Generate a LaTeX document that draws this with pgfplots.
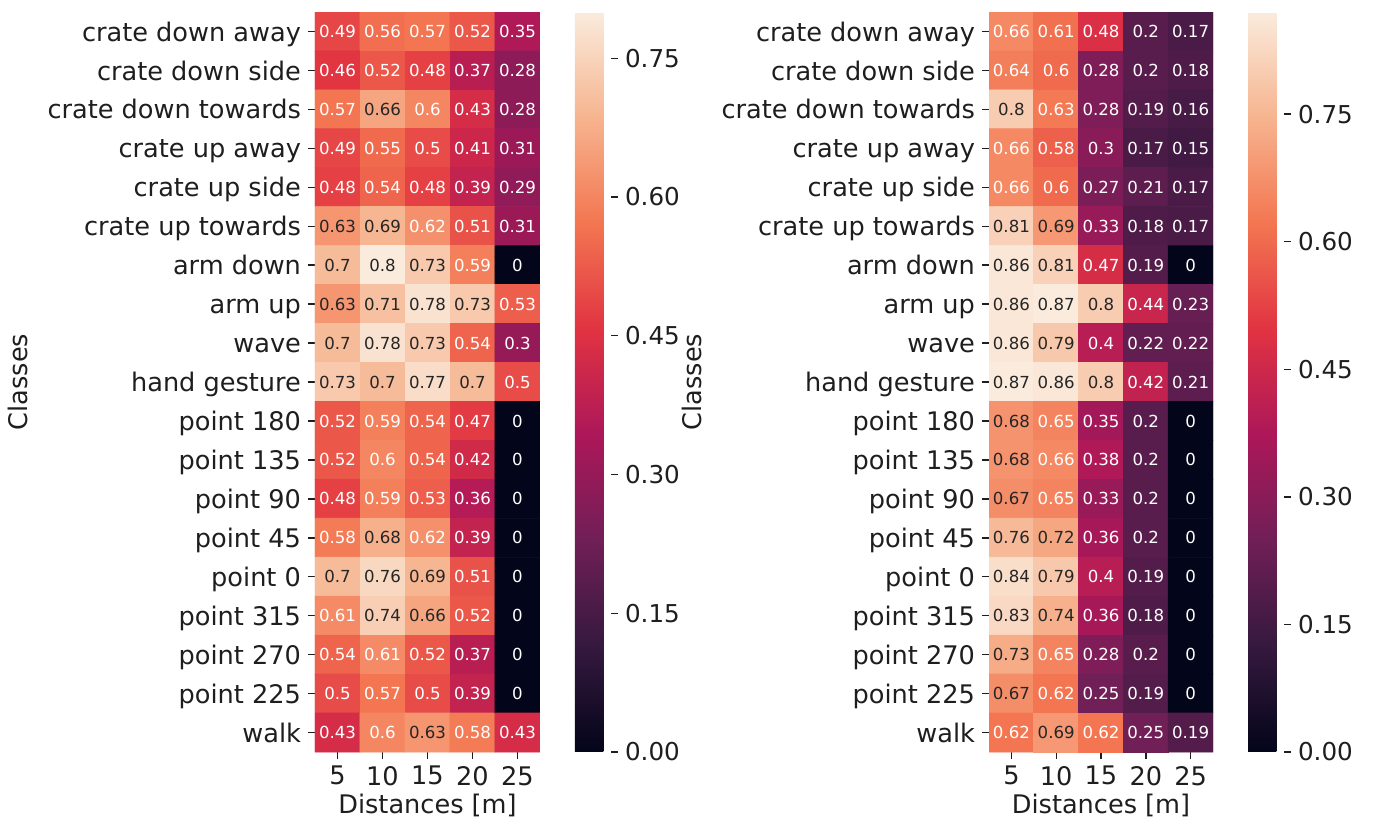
\documentclass[border=0pt]{standalone}
\usepackage{fontspec}
\setmainfont{DejaVu Sans}
\usepackage{pgfplots}
\usepackage{pgfplotstable}
\pgfplotsset{compat=1.18}
\definecolor{txt}{RGB}{30,30,30}
\definecolor{dk}{RGB}{38,38,38}

\pgfplotstableread[row sep=\\]{
c r v\\
0 0 0.49\\ 1 0 0.56\\ 2 0 0.57\\ 3 0 0.52\\ 4 0 0.35\\
0 1 0.46\\ 1 1 0.52\\ 2 1 0.48\\ 3 1 0.37\\ 4 1 0.28\\
0 2 0.57\\ 1 2 0.66\\ 2 2 0.6\\ 3 2 0.43\\ 4 2 0.28\\
0 3 0.49\\ 1 3 0.55\\ 2 3 0.5\\ 3 3 0.41\\ 4 3 0.31\\
0 4 0.48\\ 1 4 0.54\\ 2 4 0.48\\ 3 4 0.39\\ 4 4 0.29\\
0 5 0.63\\ 1 5 0.69\\ 2 5 0.62\\ 3 5 0.51\\ 4 5 0.31\\
0 6 0.7\\ 1 6 0.8\\ 2 6 0.73\\ 3 6 0.59\\ 4 6 0\\
0 7 0.63\\ 1 7 0.71\\ 2 7 0.78\\ 3 7 0.73\\ 4 7 0.53\\
0 8 0.7\\ 1 8 0.78\\ 2 8 0.73\\ 3 8 0.54\\ 4 8 0.3\\
0 9 0.73\\ 1 9 0.7\\ 2 9 0.77\\ 3 9 0.7\\ 4 9 0.5\\
0 10 0.52\\ 1 10 0.59\\ 2 10 0.54\\ 3 10 0.47\\ 4 10 0\\
0 11 0.52\\ 1 11 0.6\\ 2 11 0.54\\ 3 11 0.42\\ 4 11 0\\
0 12 0.48\\ 1 12 0.59\\ 2 12 0.53\\ 3 12 0.36\\ 4 12 0\\
0 13 0.58\\ 1 13 0.68\\ 2 13 0.62\\ 3 13 0.39\\ 4 13 0\\
0 14 0.7\\ 1 14 0.76\\ 2 14 0.69\\ 3 14 0.51\\ 4 14 0\\
0 15 0.61\\ 1 15 0.74\\ 2 15 0.66\\ 3 15 0.52\\ 4 15 0\\
0 16 0.54\\ 1 16 0.61\\ 2 16 0.52\\ 3 16 0.37\\ 4 16 0\\
0 17 0.5\\ 1 17 0.57\\ 2 17 0.5\\ 3 17 0.39\\ 4 17 0\\
0 18 0.43\\ 1 18 0.6\\ 2 18 0.63\\ 3 18 0.58\\ 4 18 0.43\\
}\leftdata

\pgfplotstableread[row sep=\\]{
c r v\\
0 0 0.66\\ 1 0 0.61\\ 2 0 0.48\\ 3 0 0.2\\ 4 0 0.17\\
0 1 0.64\\ 1 1 0.6\\ 2 1 0.28\\ 3 1 0.2\\ 4 1 0.18\\
0 2 0.8\\ 1 2 0.63\\ 2 2 0.28\\ 3 2 0.19\\ 4 2 0.16\\
0 3 0.66\\ 1 3 0.58\\ 2 3 0.3\\ 3 3 0.17\\ 4 3 0.15\\
0 4 0.66\\ 1 4 0.6\\ 2 4 0.27\\ 3 4 0.21\\ 4 4 0.17\\
0 5 0.81\\ 1 5 0.69\\ 2 5 0.33\\ 3 5 0.18\\ 4 5 0.17\\
0 6 0.86\\ 1 6 0.81\\ 2 6 0.47\\ 3 6 0.19\\ 4 6 0\\
0 7 0.86\\ 1 7 0.87\\ 2 7 0.8\\ 3 7 0.44\\ 4 7 0.23\\
0 8 0.86\\ 1 8 0.79\\ 2 8 0.4\\ 3 8 0.22\\ 4 8 0.22\\
0 9 0.87\\ 1 9 0.86\\ 2 9 0.8\\ 3 9 0.42\\ 4 9 0.21\\
0 10 0.68\\ 1 10 0.65\\ 2 10 0.35\\ 3 10 0.2\\ 4 10 0\\
0 11 0.68\\ 1 11 0.66\\ 2 11 0.38\\ 3 11 0.2\\ 4 11 0\\
0 12 0.67\\ 1 12 0.65\\ 2 12 0.33\\ 3 12 0.2\\ 4 12 0\\
0 13 0.76\\ 1 13 0.72\\ 2 13 0.36\\ 3 13 0.2\\ 4 13 0\\
0 14 0.84\\ 1 14 0.79\\ 2 14 0.4\\ 3 14 0.19\\ 4 14 0\\
0 15 0.83\\ 1 15 0.74\\ 2 15 0.36\\ 3 15 0.18\\ 4 15 0\\
0 16 0.73\\ 1 16 0.65\\ 2 16 0.28\\ 3 16 0.2\\ 4 16 0\\
0 17 0.67\\ 1 17 0.62\\ 2 17 0.25\\ 3 17 0.19\\ 4 17 0\\
0 18 0.62\\ 1 18 0.69\\ 2 18 0.62\\ 3 18 0.25\\ 4 18 0.19\\
}\rightdata

\pgfplotsset{
  colormap={rocket}{rgb255=(3,5,26) rgb255=(53,25,62) rgb255=(112,31,87) rgb255=(173,23,89) rgb255=(225,51,66) rgb255=(243,118,81) rgb255=(246,180,143) rgb255=(250,235,221)},
  heat/.style={
    scale only axis, width=112.5pt, height=370pt, anchor=south west,
    xmin=-0.5, xmax=4.5, ymin=-0.5, ymax=18.5, y dir=reverse,
    enlargelimits=false,
    axis line style={draw=none},
    tick pos=left, tick align=outside, major tick length=3.5pt,
    tick style={txt, line width=0.7pt},
    xtick={0,1,2,3,4}, xticklabels={5,10,15,20,25},
    ytick={0,1,...,18},
    yticklabels={crate down away, crate down side, crate down towards, crate up away, crate up side, crate up towards, arm down, arm up, wave, hand gesture, point 180, point 135, point 90, point 45, point 0, point 315, point 270, point 225, walk},
    ticklabel style={font=\fontsize{12.8}{15}\selectfont, text=txt},
    yticklabel style={anchor=base east, yshift=-4.8pt},
    label style={font=\fontsize{12.8}{15}\selectfont, text=txt},
    xlabel={Distances [m]}, ylabel={Classes},
    xlabel style={yshift=2.5pt},
    ylabel style={at={(ticklabel cs:0.5,3pt)}},
    colormap name=rocket, point meta min=0,
    colorbar,
    colorbar shift/.style={xshift=17.5pt},
    colorbar style={
      at={(parent axis.north east)}, anchor=north west,
      width=18pt, scale only axis,
      axis line style={draw=none},
      ytick={0,0.15,0.3,0.45,0.6,0.75},
      ytick pos=right, yticklabel pos=right,
      tick align=outside, major tick length=3.5pt,
      tick style={txt, line width=0.7pt},
      /pgf/number format/assume math mode=true,
      yticklabel style={/pgf/number format/.cd, fixed, fixed zerofill, precision=2, /tikz/.cd, font=\fontsize{12.3}{14}\selectfont, text=txt},
    },
  },
  lbl/.style={
    draw=none, mark=none, point meta=explicit,
    nodes near coords, nodes near coords align=center,
    /pgf/number format/assume math mode=true,
    every node near coord/.append style={font=\fontsize{8.3}{9}\selectfont, inner sep=0pt, text=#1},
  },
}

\begin{document}
\begin{tikzpicture}
\useasboundingbox (0,0) rectangle (686.5pt,410.5pt);
\begin{axis}[heat, at={(157.5pt,34.5pt)}, point meta max=0.8]
\addplot[matrix plot*, mesh/cols=5, point meta=explicit] table[x=c, y=r, meta=v] {\leftdata};
\addplot[lbl=white, restrict expr to domain={\thisrow{v}}{-1:0.624}] table[x=c, y=r, meta=v] {\leftdata};
\addplot[lbl=dk, restrict expr to domain={\thisrow{v}}{0.626:2}] table[x=c, y=r, meta=v] {\leftdata};
\end{axis}
\begin{axis}[heat, at={(494.5pt,34.5pt)}, width=112pt, point meta max=0.87]
\addplot[matrix plot*, mesh/cols=5, point meta=explicit] table[x=c, y=r, meta=v] {\rightdata};
\addplot[lbl=white, restrict expr to domain={\thisrow{v}}{-1:0.664}] table[x=c, y=r, meta=v] {\rightdata};
\addplot[lbl=dk, restrict expr to domain={\thisrow{v}}{0.666:2}] table[x=c, y=r, meta=v] {\rightdata};
\end{axis}
\end{tikzpicture}
\end{document}
